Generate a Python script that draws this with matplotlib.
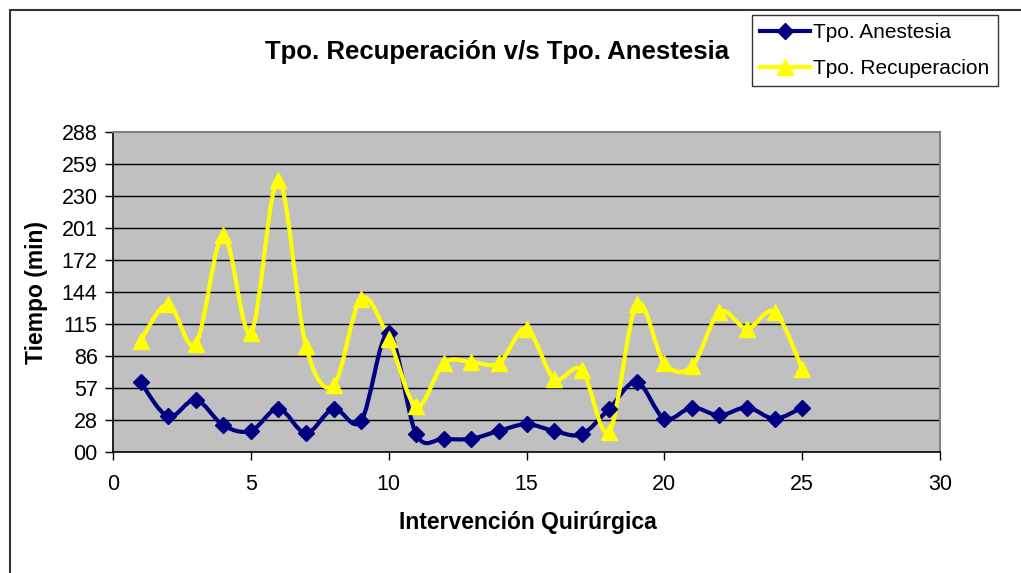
import matplotlib
matplotlib.use('Agg')
from matplotlib import pyplot as plt
from matplotlib.path import Path
from matplotlib.patches import PathPatch, Rectangle
import numpy as np

plt.rcParams['font.family'] = ['Liberation Sans', 'DejaVu Sans']

# data
cirugia = list(range(1, 26))
anestesia = [63, 32, 47, 24, 19, 39, 17, 39, 28, 107, 16, 12, 12, 19, 25,
             19, 16, 39, 63, 30, 40, 33, 40, 30, 40]
recuperacion = [100, 133, 97, 195, 107, 245, 95, 60, 138, 102, 41, 80, 81, 80, 111,
                66, 74, 18, 133, 80, 77, 126, 111, 126, 75]
yticks = [0, 28.8, 57.6, 86.4, 115.2, 144, 172.8, 201.6, 230.4, 259.2, 288]
ylabels = ['00', '28', '57', '86', '115', '144', '172', '201', '230', '259', '288']


def smooth_path(x, y):
    # excel-like smoothed line (bezier through the points)
    p = np.column_stack([x, y]).astype(float)
    n = len(p)
    verts = [p[0]]
    codes = [Path.MOVETO]
    for i in range(n - 1):
        p0 = p[i - 1] if i > 0 else p[i]
        p3 = p[i + 2] if i + 2 < n else p[i + 1]
        c1 = p[i] + (p[i + 1] - p0) / 6.0
        c2 = p[i + 1] - (p3 - p[i]) / 6.0
        verts += [c1, c2, p[i + 1]]
        codes += [Path.CURVE4] * 3
    return Path(verts, codes)


fig = plt.figure(figsize=(10.21, 5.73), dpi=100)
fig.patches.append(Rectangle((10 / 1021, -0.1), 1.2, (573 - 10) / 573 + 0.1,
                             transform=fig.transFigure, fill=False,
                             edgecolor='#333333', lw=1.5))
ax = fig.add_axes([113 / 1021, 1 - 452 / 573, 827 / 1021, 320 / 573])
ax.set_facecolor('#C0C0C0')

for v in yticks[1:-1]:
    ax.axhline(v, color='black', lw=1, zorder=1)

for xs, ys, col, mk, ms, lab in [(cirugia, anestesia, '#000080', 'D', 8, 'Tpo. Anestesia'),
                                  (cirugia, recuperacion, '#FFFF00', '^', 11, 'Tpo. Recuperacion')]:
    ax.add_patch(PathPatch(smooth_path(xs, ys), fill=False, edgecolor=col, lw=3, zorder=3))
    ax.plot(xs, ys, ls='none', marker=mk, ms=ms, color=col, zorder=4)
    ax.plot([], [], color=col, lw=3, marker=mk, ms=ms, label=lab)

ax.set_xlim(0, 30)
ax.set_ylim(0, 288)
ax.set_xticks([0, 5, 10, 15, 20, 25, 30])
ax.set_yticks(yticks)
ax.set_yticklabels(ylabels)
ax.tick_params(axis='both', labelsize=15.5, length=6, width=1, color='black', pad=5)
ax.tick_params(axis='x', pad=10)
for s in ['top', 'right']:
    ax.spines[s].set_color('#808080')
    ax.spines[s].set_linewidth(1.5)
for s in ['left', 'bottom']:
    ax.spines[s].set_color('black')
    ax.spines[s].set_linewidth(1.2)

fig.text(528 / 1021, 1 - 523 / 573, 'Intervención Quirúrgica',
         fontsize=16.5, fontweight='bold', ha='center', va='center')
fig.text(36 / 1021, 1 - 292 / 573, 'Tiempo (min)', rotation=90,
         fontsize=16.5, fontweight='bold', ha='center', va='center')
fig.text(497 / 1021, 1 - 52 / 573, 'Tpo. Recuperación v/s Tpo. Anestesia',
         fontsize=18.5, fontweight='bold', ha='center', va='center')

leg = fig.legend(loc='upper left', bbox_to_anchor=(752 / 1021, 1 - 15 / 573),
                 fontsize=15, frameon=True, fancybox=False, edgecolor='black',
                 borderpad=0.4, handlelength=2.4, handletextpad=0.15,
                 labelspacing=0.8, borderaxespad=0)
leg.get_frame().set_linewidth(1)

plt.savefig('out.png', dpi=100)
